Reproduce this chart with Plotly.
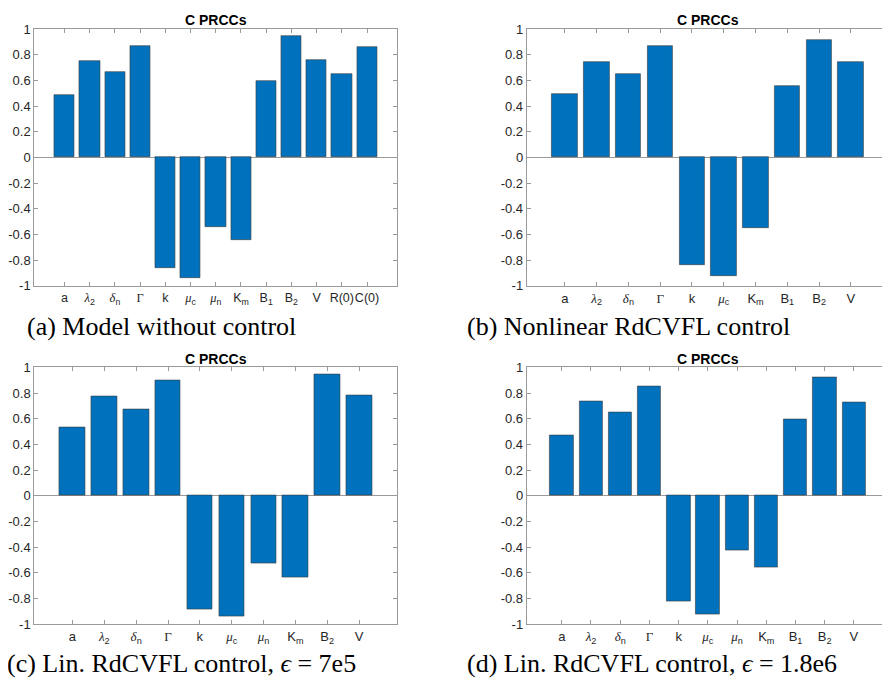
import plotly.graph_objects as go

# ---------------- data ----------------
labels_a = ["a", "λ2", "δn", "Γ", "k", "μc", "μn", "Km", "B1", "B2", "V", "R(0)", "C(0)"]
values_a = [0.485, 0.751, 0.662, 0.868, -0.860, -0.939, -0.538, -0.645, 0.596, 0.942, 0.761, 0.650, 0.858]

labels_b = ["a", "λ2", "δn", "Γ", "k", "μc", "Km", "B1", "B2", "V"]
values_b = [0.497, 0.746, 0.650, 0.868, -0.835, -0.921, -0.551, 0.556, 0.914, 0.741]

labels_c = ["a", "λ2", "δn", "Γ", "k", "μc", "μn", "Km", "B2", "V"]
values_c = [0.536, 0.774, 0.673, 0.896, -0.886, -0.942, -0.523, -0.635, 0.944, 0.779]

labels_d = ["a", "λ2", "δn", "Γ", "k", "μc", "μn", "Km", "B1", "B2", "V"]
values_d = [0.470, 0.734, 0.650, 0.855, -0.820, -0.924, -0.421, -0.558, 0.594, 0.919, 0.728]

panel_title = "C PRCCs"
captions = ["(a) Model without control",
            "(b) Nonlinear RdCVFL control",
            "(c) Lin. RdCVFL control, <i>ϵ</i> = 7e5",
            "(d) Lin. RdCVFL control, <i>ϵ</i> = 1.8e6"]
y_ticks = [-1, -0.8, -0.6, -0.4, -0.2, 0, 0.2, 0.4, 0.6, 0.8, 1]
y_ticktext = ["-1", "-0.8", "-0.6", "-0.4", "-0.2", "0", "0.2", "0.4", "0.6", "0.8", "1"]

# ---------------- styling helpers ----------------
OFF = 8                      # page body margin
W, H = 890 - OFF, 690 - OFF  # figure size so that it fills the window
BAR = "#0072BD"
AXC = "#9a9a9a"
TXT = "#262626"
SANS = "Liberation Sans, Arial, sans-serif"
SERIF = "Liberation Serif, Times New Roman, serif"


def px(X):
    return (X - OFF) / W


def py(Y):
    return 1 - (Y - OFF) / H


def fmt(lbl):
    if lbl == "Γ":
        return "<span style='font-family:Liberation Serif'>Γ</span>"
    if lbl[0] in "λδμ":
        return ("<span style='font-family:Liberation Serif'><i>%s</i></span><sub>%s</sub>"
                % (lbl[0], lbl[1:]))
    if lbl in ("Km", "B1", "B2"):
        return "%s<sub>%s</sub>" % (lbl[0], lbl[1:])
    return lbl


panels = [
    (labels_a, values_a, (34.3, 397.7), (22.3, 285.0)),
    (labels_b, values_b, (527.3, 890.0), (22.3, 285.0)),
    (labels_c, values_c, (34.3, 397.7), (368.3, 631.0)),
    (labels_d, values_d, (527.3, 890.0), (368.3, 631.0)),
]
caption_pos = [(25, 326), (466, 326), (5, 671), (466, 671)]

fig = go.Figure()
layout = dict(width=W, height=H, margin=dict(l=0, r=0, t=0, b=0),
              paper_bgcolor="white", plot_bgcolor="white", showlegend=False,
              bargap=0)
annotations = []

for i, (labs, vals, (x0, x1), (y0, y1)) in enumerate(panels):
    n = len(labs)
    xs = list(range(n))
    sfx = "" if i == 0 else str(i + 1)
    fig.add_trace(go.Bar(x=xs, y=vals, width=0.8,
                         marker=dict(color=BAR, line=dict(color="#3a3a3a", width=0.6)),
                         xaxis="x" + sfx, yaxis="y" + sfx))
    layout["xaxis" + sfx] = dict(
        domain=[px(x0), min(px(x1), 1.0)], anchor="y" + sfx,
        range=[-1.2, n - 1 + 1.2],
        tickvals=xs, ticktext=[fmt(l) for l in labs], tickangle=0,
        ticks="inside", ticklen=4, tickcolor=AXC, tickwidth=1,
        showline=True, linecolor=AXC, linewidth=1, mirror="ticks",
        showgrid=False, zeroline=False,
        tickfont=dict(family=SANS, size=13 if n < 13 else 12.5, color=TXT),
        fixedrange=True,
    )
    layout["yaxis" + sfx] = dict(
        domain=[py(y1), py(y0)], anchor="x" + sfx,
        range=[-1, 1], tickvals=y_ticks, ticktext=y_ticktext,
        ticks="inside", ticklen=4, tickcolor=AXC, tickwidth=1,
        showline=True, linecolor=AXC, linewidth=1, mirror="ticks",
        showgrid=False, zeroline=True, zerolinecolor=AXC, zerolinewidth=1,
        tickfont=dict(family=SANS, size=13, color=TXT),
        fixedrange=True,
    )
    annotations.append(dict(
        text="<b>%s</b>" % panel_title, xref="paper", yref="paper",
        x=px((x0 + min(x1, 891.0)) / 2), y=py(y0 - 9), xanchor="center", yanchor="middle",
        showarrow=False, font=dict(family=SANS, size=14, color="black")))
    cx, cy = caption_pos[i]
    annotations.append(dict(
        text=captions[i], xref="paper", yref="paper",
        x=px(cx), y=py(cy), xanchor="left", yanchor="middle",
        showarrow=False, font=dict(family=SERIF, size=26, color="black")))

layout["annotations"] = annotations
fig.update_layout(**layout)
fig.write_html("out.html")
